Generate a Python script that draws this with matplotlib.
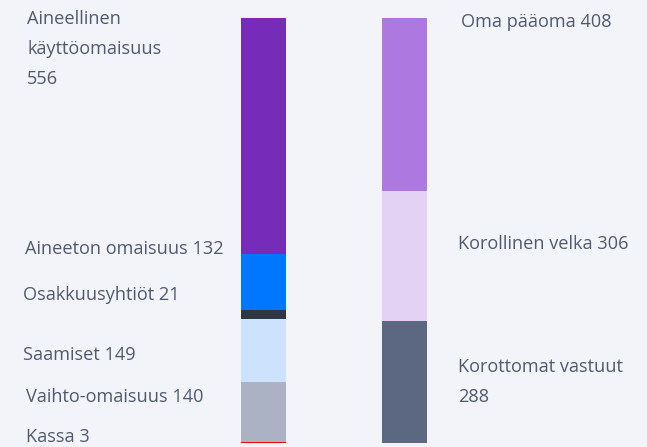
import matplotlib.pyplot as plt
import numpy as np

plt.rcParams['font.family'] = ['Open Sans', 'DejaVu Sans']

# vastaavaa (left bar), bottom to top
assets = ["Kassa", "Vaihto-omaisuus", "Saamiset", "Osakkuusyhtiöt",
          "Aineeton omaisuus", "Aineellinen käyttöomaisuus"]
asset_values = [3, 140, 149, 21, 132, 556]
asset_colors = ["#ff0000", "#abb2c4", "#cde2fc", "#2e3744", "#0077ff", "#772bb9"]

# vastattavaa (right bar), bottom to top
liabilities = ["Korottomat vastuut", "Korollinen velka", "Oma pääoma"]
liability_values = [288, 306, 408]
liability_colors = ["#5c6882", "#e3d2f3", "#ad78e0"]

# label texts and their pixel positions (x, y from top)
asset_labels = ["Kassa 3", "Vaihto-omaisuus 140", "Saamiset 149", "Osakkuusyhtiöt 21",
                "Aineeton omaisuus 132", "Aineellinen\nkäyttöomaisuus\n556"]
asset_label_pos = [(26, 437), (26, 397), (23, 355), (23, 295), (25, 249), (27, 49)]
liability_labels = ["Korottomat vastuut\n288", "Korollinen velka 306", "Oma pääoma 408"]
liability_label_pos = [(458, 382), (458, 244), (461, 22)]

W, H = 647, 447
bg = "#f3f4f9"
txt = "#4f5a6e"

fig = plt.figure(figsize=(W / 100, H / 100), dpi=100)
fig.patch.set_facecolor(bg)
total = max(sum(asset_values), sum(liability_values))
ax = fig.add_axes([0, 4 / H, 1, 425 / H])
ax.set_facecolor(bg)
ax.set_xlim(0, W)
ax.set_ylim(0, total)
ax.axis("off")

bottom = 0
for v, c in zip(asset_values, asset_colors):
    ax.bar(263.5, v, width=45, bottom=bottom, color=c, linewidth=0)
    bottom += v

bottom = 0
for v, c in zip(liability_values, liability_colors):
    ax.bar(404.5, v, width=45, bottom=bottom, color=c, linewidth=0)
    bottom += v

for lab, (x, y) in zip(asset_labels + liability_labels, asset_label_pos + liability_label_pos):
    fig.text(x / W, 1 - y / H, lab, ha="left", va="center", fontsize=13.1,
             color=txt, linespacing=1.88)

fig.savefig("out.png", dpi=100, facecolor=bg)
